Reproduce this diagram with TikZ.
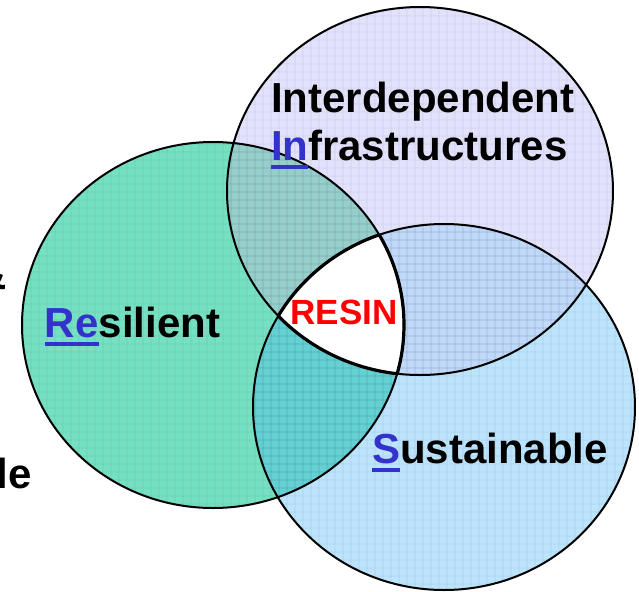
\documentclass[tikz,border=0pt]{standalone}
\usepackage{fontspec}
\setmainfont{Liberation Sans}
\usetikzlibrary{patterns.meta}
\definecolor{resgreen}{RGB}{118,224,194}
\definecolor{infralilac}{RGB}{226,226,252}
\definecolor{sustblue}{RGB}{188,228,252}
\definecolor{resinfra}{RGB}{150,206,204}
\definecolor{ressust}{RGB}{100,208,212}
\definecolor{infrasust}{RGB}{192,216,250}
\definecolor{keyblue}{RGB}{51,51,204}
\newcommand{\resset}{(213,325) ellipse [x radius=191, y radius=183]}
\newcommand{\infraset}{(420,191) ellipse [x radius=193, y radius=184]}
\newcommand{\sustset}{(444,407) ellipse [x radius=191, y radius=183]}
\newcommand{\initial}[1]{\textcolor{keyblue}{\setbox0\hbox{#1}\rlap{\rule[-4.5pt]{\wd0}{2pt}}\box0}}
\tikzstyle{settext}=[inner sep=0pt, anchor=base west, font=\fontsize{21}{25}\selectfont\bfseries]
\tikzstyle{texture}=[pattern={Hatch[angle=0, distance=4pt, line width=0.4pt]}, pattern color=black, fill opacity=0.08]

\begin{document}
\begin{tikzpicture}[x=0.5pt, y=-0.5pt, line width=1pt]
                    \useasboundingbox (0,0) rectangle (639,591);
                    \clip (0,0) rectangle (639,591);
                    % the three sets
                    \fill[resgreen] \resset;
                    \fill[infralilac] \infraset;
                    \fill[sustblue] \sustset;
                    % pairwise overlaps
                    \begin{scope}
                        \clip \resset;
                        \fill[resinfra] \infraset;
                        \fill[ressust] \sustset;
                    \end{scope}
                    \begin{scope}
                        \clip \infraset;
                        \fill[infrasust] \sustset;
                    \end{scope}
                    \path[texture] \resset;
                    \path[texture] \infraset;
                    \path[texture] \sustset;
                    % the common core
                    \begin{scope}
                        \clip \resset; \clip \infraset;
                        \fill[white] \sustset;
                    \end{scope}
                    \draw \resset;
                    \draw \infraset;
                    \draw \sustset;
                    \begin{scope}[line width=1.6pt]
                        \begin{scope} \clip \resset; \clip \infraset; \draw \sustset; \end{scope}
                        \begin{scope} \clip \resset; \clip \sustset; \draw \infraset; \end{scope}
                        \begin{scope} \clip \infraset; \clip \sustset; \draw \resset; \end{scope}
                    \end{scope}
                    % labels
                    \node[settext] (10) at (270,112) {Interdependent};
                    \node[settext] (11) at (270,160) {\initial{In}frastructures};
                    \node[settext] (20) at (44,337) {\initial{Re}silient};
                    \node[settext] (30) at (371,463) {\initial{S}ustainable};
                    \node[settext, anchor=base, font=\fontsize{17.5}{20}\selectfont\bfseries, text=red] (40) at (344,324) {RESIN};
                    \node[settext, anchor=base east] (50) at (33,488) {le};
                    \node[settext, anchor=base east] (51) at (8,289) {\&};
                \end{tikzpicture}
\end{document}
